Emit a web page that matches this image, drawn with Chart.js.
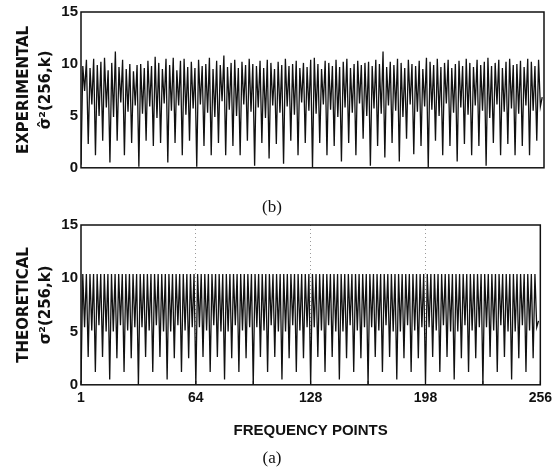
<!DOCTYPE html>
<html>
<head>
<meta charset="utf-8">
<script src="https://cdn.jsdelivr.net/npm/chart.js@4.4.1/dist/chart.umd.min.js"></script>
<style>
  html, body { margin: 0; padding: 0; background: #fff; }
  #wrap { position: relative; width: 557px; height: 469px; overflow: hidden; }
  #c-exp  { position: absolute; left: 0; top: 0; }
  #c-theo { position: absolute; left: 0; top: 205px; }
</style>
</head>
<body>
<div id="wrap">
  <canvas id="c-exp" width="557" height="222"></canvas>
  <canvas id="c-theo" width="557" height="264"></canvas>
</div>
<script>
/* Spektrální odhad rozptylu, 256 frekvenčních bodů:
   nahoře experimentální, dole teoretický průběh. */

// experimentální hodnoty (index 0..255)
const EXP_VALUES = [
  0.3, 9.8, 7.4, 10.4, 2.3, 9.6, 6.1, 10.5, 1.2, 9.9, 5.0, 10.2, 2.6, 10.6, 5.8, 9.4,
  0.5, 10.1, 4.9, 11.2, 2.6, 9.7, 6.3, 10.4, 1.2, 9.5, 5.4, 10.0, 2.4, 9.3, 6.0, 9.9,
  0.1, 10.0, 5.2, 9.6, 2.6, 10.3, 5.9, 9.8, 2.1, 10.7, 4.8, 10.1, 2.4, 9.5, 6.2, 10.5,
  0.5, 9.9, 5.5, 10.6, 2.4, 9.4, 6.0, 10.3, 1.2, 10.5, 5.1, 9.7, 2.6, 10.2, 5.7, 9.6,
  0.1, 10.4, 6.1, 9.8, 2.1, 10.0, 5.3, 10.6, 1.2, 9.5, 4.9, 10.3, 2.4, 9.9, 6.4, 10.8,
  1.2, 9.7, 5.6, 10.1, 2.1, 10.4, 5.0, 9.6, 1.2, 10.2, 6.1, 9.9, 2.6, 10.5, 5.4, 10.0,
  0.2, 9.8, 5.8, 10.3, 2.4, 9.6, 4.8, 10.4, 0.9, 10.1, 6.0, 9.5, 2.3, 10.2, 5.3, 9.9,
  0.4, 10.5, 5.9, 9.8, 2.6, 10.0, 5.1, 10.3, 1.2, 9.6, 6.3, 10.1, 2.4, 9.7, 5.5, 10.4,
  0.0, 10.6, 5.2, 10.0, 2.4, 9.5, 6.1, 10.3, 1.2, 10.1, 5.6, 9.8, 2.1, 10.4, 4.9, 9.7,
  0.6, 10.2, 5.8, 10.5, 2.4, 9.6, 5.3, 10.0, 1.2, 10.3, 6.2, 9.9, 2.8, 10.1, 5.0, 10.2,
  0.2, 9.8, 5.7, 10.4, 2.1, 10.0, 5.2, 11.2, 1.0, 9.7, 6.0, 10.2, 2.4, 9.9, 5.5, 10.5,
  0.6, 10.1, 4.9, 9.6, 2.8, 10.4, 6.1, 10.0, 1.3, 9.8, 5.4, 10.3, 2.1, 9.5, 5.9, 10.6,
  0.0, 10.2, 5.6, 9.9, 2.6, 10.5, 5.0, 9.7, 1.2, 10.1, 6.2, 10.4, 2.1, 9.6, 5.3, 10.0,
  0.6, 10.3, 5.8, 9.8, 2.3, 10.5, 5.1, 10.1, 1.2, 9.7, 6.0, 10.4, 2.1, 9.9, 5.5, 10.2,
  0.2, 10.6, 4.8, 9.8, 2.4, 10.1, 6.1, 10.4, 1.2, 9.6, 5.4, 10.2, 2.3, 10.5, 5.7, 9.9,
  1.2, 10.0, 5.2, 10.3, 2.1, 9.7, 6.0, 10.5, 1.2, 10.2, 5.5, 9.8, 2.6, 10.4, 5.9, 6.8
];

// teoretické hodnoty (index 0..255)
const THEO_VALUES = [
  0.2, 10.4, 5.4, 10.4, 2.6, 10.4, 5.1, 10.4, 1.2, 10.4, 5.6, 10.4, 2.6, 10.4, 5.0, 10.4,
  0.5, 10.4, 5.0, 10.4, 2.5, 10.4, 5.6, 10.4, 1.2, 10.4, 5.1, 10.4, 2.5, 10.4, 5.4, 10.4,
  0.0, 10.4, 5.4, 10.4, 2.6, 10.4, 5.1, 10.4, 1.2, 10.4, 5.6, 10.4, 2.6, 10.4, 5.0, 10.4,
  0.5, 10.4, 5.0, 10.4, 2.5, 10.4, 5.6, 10.4, 1.2, 10.4, 5.1, 10.4, 2.5, 10.4, 5.4, 10.4,
  0.0, 10.4, 5.4, 10.4, 2.6, 10.4, 5.1, 10.4, 1.2, 10.4, 5.6, 10.4, 2.6, 10.4, 5.0, 10.4,
  0.5, 10.4, 5.0, 10.4, 2.5, 10.4, 5.6, 10.4, 1.2, 10.4, 5.1, 10.4, 2.5, 10.4, 5.4, 10.4,
  0.0, 10.4, 5.4, 10.4, 2.6, 10.4, 5.1, 10.4, 1.2, 10.4, 5.6, 10.4, 2.6, 10.4, 5.0, 10.4,
  0.5, 10.4, 5.0, 10.4, 2.5, 10.4, 5.6, 10.4, 1.2, 10.4, 5.1, 10.4, 2.5, 10.4, 5.4, 10.4,
  0.0, 10.4, 5.4, 10.4, 2.6, 10.4, 5.1, 10.4, 1.2, 10.4, 5.6, 10.4, 2.6, 10.4, 5.0, 10.4,
  0.5, 10.4, 5.0, 10.4, 2.5, 10.4, 5.6, 10.4, 1.2, 10.4, 5.1, 10.4, 2.5, 10.4, 5.4, 10.4,
  0.0, 10.4, 5.4, 10.4, 2.6, 10.4, 5.1, 10.4, 1.2, 10.4, 5.6, 10.4, 2.6, 10.4, 5.0, 10.4,
  0.5, 10.4, 5.0, 10.4, 2.5, 10.4, 5.6, 10.4, 1.2, 10.4, 5.1, 10.4, 2.5, 10.4, 5.4, 10.4,
  0.0, 10.4, 5.4, 10.4, 2.6, 10.4, 5.1, 10.4, 1.2, 10.4, 5.6, 10.4, 2.6, 10.4, 5.0, 10.4,
  0.5, 10.4, 5.0, 10.4, 2.5, 10.4, 5.6, 10.4, 1.2, 10.4, 5.1, 10.4, 2.5, 10.4, 5.4, 10.4,
  0.0, 10.4, 5.4, 10.4, 2.6, 10.4, 5.1, 10.4, 1.2, 10.4, 5.6, 10.4, 2.6, 10.4, 5.0, 10.4,
  0.5, 10.4, 5.0, 10.4, 2.5, 10.4, 5.6, 10.4, 1.2, 10.4, 5.1, 10.4, 2.5, 10.4, 5.4, 6.0
];

// osy
const X_TICK_POS  = [0, 64, 128, 192, 256];
const X_TICK_TEXT = ['1', '64', '128', '198', '256'];
const X_GRID_MARKS = [64, 128, 192];

const INK  = '#111111';
const SANS = '"Liberation Sans", Arial, sans-serif';
const DEJA = '"DejaVu Sans", sans-serif';
const SERIF = '"Liberation Serif", "Times New Roman", serif';

const toPoints = (vals) => vals.map((v, i) => ({ x: i, y: v }));

// rámeček kolem plochy grafu + krátké značky dovnitř na ose x
const framePlugin = {
  id: 'frame',
  afterDraw(chart, args, opts) {
    const { ctx, chartArea: a, scales } = chart;
    ctx.save();
    ctx.strokeStyle = INK;
    ctx.lineWidth = 1.5;
    ctx.strokeRect(a.left, a.top, a.right - a.left, a.bottom - a.top);
    if (opts.innerTicks) {
      ctx.lineWidth = 1;
      scales.x.ticks.forEach(t => {
        const px = scales.x.getPixelForValue(t.value);
        ctx.beginPath();
        ctx.moveTo(px, a.bottom);
        ctx.lineTo(px, a.bottom - 4);
        ctx.stroke();
      });
    }
    ctx.restore();
  }
};

function yScale(titleLines) {
  return {
    min: 0, max: 15,
    ticks: { stepSize: 5, padding: 3, color: INK, font: { family: SANS, size: 15, weight: 'bold' } },
    grid: { display: false, drawTicks: false },
    border: { display: false },
    title: {
      display: true, text: titleLines, color: INK,
      font: { family: DEJA, size: 15, weight: 'bold', lineHeight: 1.45 },
      padding: { top: 13, bottom: 0 }
    },
    afterFit: (s) => { s.width = 81; }
  };
}

function drawPanel(canvasId, values, cfg) {
  return new Chart(document.getElementById(canvasId), {
    type: 'line',
    data: {
      datasets: [{
        data: toPoints(values),
        borderColor: INK,
        borderWidth: 1.3,
        pointRadius: 0,
        tension: 0,
      }]
    },
    options: {
      responsive: false,
      animation: false,
      layout: { padding: { top: cfg.padTop, right: 13, left: 0, bottom: 0 } },
      plugins: {
        legend: { display: false },
        tooltip: { enabled: false },
        title: {
          display: true, position: 'bottom', text: cfg.caption, color: INK,
          font: { family: SERIF, size: 17, weight: 'normal', lineHeight: 1.2 },
          padding: { top: 0, bottom: cfg.capPad }
        },
        frame: { innerTicks: cfg.showX }
      },
      scales: {
        x: {
          type: 'linear', min: 0, max: 256,
          ticks: {
            display: cfg.showX, stepSize: 32, autoSkip: false, maxRotation: 0, padding: 5,
            color: INK, font: { family: SANS, size: 14, weight: 'bold' },
            callback: (v) => {
              const i = X_TICK_POS.indexOf(v);
              return i >= 0 ? X_TICK_TEXT[i] : '';
            }
          },
          grid: {
            display: cfg.showX, drawTicks: false,
            color: (c) => (c.tick && X_GRID_MARKS.includes(c.tick.value)) ? '#9a9a9a' : 'rgba(0,0,0,0)',
            lineWidth: 1
          },
          border: { display: false, dash: [1, 3] },
          title: {
            display: cfg.showX, text: 'FREQUENCY POINTS', color: INK,
            font: { family: SANS, size: 15, weight: 'bold', lineHeight: 1.2 },
            padding: { top: 0, bottom: 9 }
          },
          afterFit: (s) => { s.height = cfg.xHeight; }
        },
        y: yScale(cfg.yTitle)
      }
    },
    plugins: [framePlugin]
  });
}

drawPanel('c-exp', EXP_VALUES, {
  padTop: 11, caption: '(b)', capPad: 4, showX: false, xHeight: 29.8,
  yTitle: ['EXPERIMENTAL', 'σ\u0302\u00B2(256,k)']
});

drawPanel('c-theo', THEO_VALUES, {
  padTop: 20, caption: '(a)', capPad: 0, showX: true, xHeight: 63.8,
  yTitle: ['THEORETICAL', 'σ\u00B2(256,k)']
});
</script>
</body>
</html>
